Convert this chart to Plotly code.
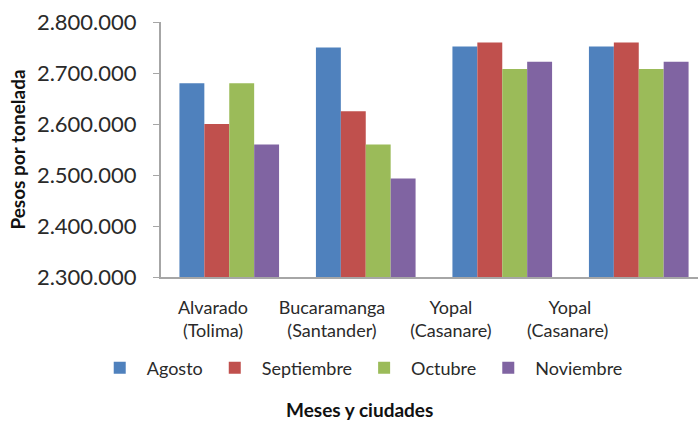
import plotly.graph_objects as go

categories = ["Alvarado<br>(Tolima)", "Bucaramanga<br>(Santander)", "Yopal<br>(Casanare)", "Yopal<br>(Casanare) "]
cat_keys = ["c1", "c2", "c3", "c4"]
months = ["Agosto", "Septiembre", "Octubre", "Noviembre"]
agosto = [2680000, 2750000, 2752000, 2752000]
septiembre = [2600000, 2625000, 2760000, 2760000]
octubre = [2680000, 2560000, 2708000, 2708000]
noviembre = [2560000, 2493000, 2722000, 2722000]
colors = ["#4F81BD", "#C0504D", "#9BBB59", "#8064A2"]
y_ticks = [2300000, 2400000, 2500000, 2600000, 2700000, 2800000]

FONT = "Lato"
series = [agosto, septiembre, octubre, noviembre]

fig = go.Figure()
for name, vals, col in zip(months, series, colors):
    fig.add_trace(go.Bar(x=cat_keys, y=vals, name=name, marker_color=col,
                         marker_line_width=0))

# label axis (tick labels only)
fig.add_trace(go.Scatter(x=[0, 1, 2, 3], y=[None] * 4, xaxis="x2", showlegend=False,
                         hoverinfo="skip"))

fig.update_layout(
    width=698, height=421,
    margin=dict(l=161, r=0, t=22, b=144, autoexpand=False),
    paper_bgcolor="white", plot_bgcolor="white",
    separators=",.",
    barmode="group", bargap=0.27, bargroupgap=0,
    font=dict(family=FONT, color="#2a2a2a", size=17),
    xaxis=dict(type="category", range=[-0.5, 3.434], showticklabels=False,
               showline=True, linecolor="#A6A6A6", linewidth=2, ticks="", automargin=False),
    xaxis2=dict(overlaying="x", side="bottom", anchor="y", range=[-0.437, 4.076],
                tickvals=[0, 1, 2, 3], ticktext=categories, showgrid=False,
                zeroline=False, showline=False, ticks="", automargin=False,
                tickfont=dict(size=18, family=FONT, color="#2a2a2a"),
                ticklabelstandoff=18),
    yaxis=dict(range=[2300000, 2800000], tickvals=y_ticks, tickformat=",d",
               showgrid=False, zeroline=False, showline=True, linecolor="#A6A6A6",
               linewidth=2, ticks="outside", ticklen=6, tickcolor="#A6A6A6",
               tickfont=dict(size=22, family=FONT, color="#2a2a2a"),
               ticklabelstandoff=12, automargin=False,
               title=dict(text="<b>Pesos por tonelada</b>", font=dict(size=19, family=FONT, color="#111111"),
                          standoff=6)),
    legend=dict(orientation="h", x=0.371, xanchor="center", y=-0.357, yanchor="middle",
                font=dict(size=18, family=FONT, color="#2a2a2a"), itemwidth=44,
                traceorder="normal"),
    annotations=[dict(text="<b>Meses y ciudades</b>", xref="paper", yref="paper",
                      x=0.37, y=-0.52, xanchor="center", yanchor="middle", showarrow=False,
                      font=dict(size=19, family=FONT, color="#111111"))],
)

fig.write_html("out.html", config={"displayModeBar": False},
               post_script="document.body.style.margin='0';")
